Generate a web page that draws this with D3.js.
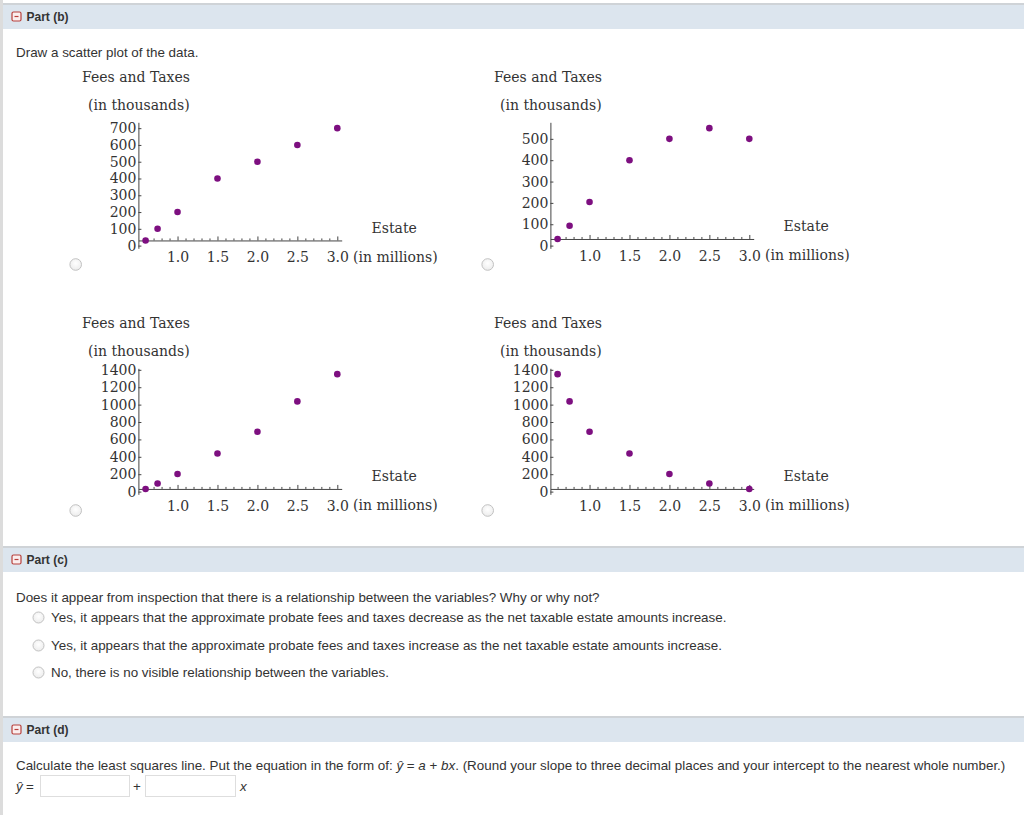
<!DOCTYPE html>
<html>
<head>
<meta charset="utf-8">
<script src="https://cdn.jsdelivr.net/npm/d3@7"></script>
<style>
  html, body { margin: 0; padding: 0; background: #fff; }
  svg { display: block; }
</style>
</head>
<body>
<svg id="page" width="1024" height="815"></svg>
<script>
// ---------------- data ----------------
const estate = [0.6, 0.75, 1.0, 1.5, 2.0, 2.5, 3.0];          // net taxable estate (millions)
const feesA = [30.7, 100, 200, 400, 500, 600, 700];           // option A
const feesB = [31, 93, 204, 400, 500, 550, 500];              // option B
const feesC = [30.7, 92.5, 203, 438, 688, 1037, 1350];        // option C
const feesD = [1350, 1037, 688, 438, 203, 92.5, 30.7];        // option D
const xTickValues = [1.0, 1.5, 2.0, 2.5, 3.0];
const xMinorValues = [0.6, 0.7, 0.8, 0.9, 1.1, 1.2, 1.3, 1.4, 1.6, 1.7, 1.8, 1.9, 2.1, 2.2, 2.3, 2.4, 2.6, 2.7, 2.8, 2.9];
const yTicksA = [0, 100, 200, 300, 400, 500, 600, 700];
const yTicksB = [0, 100, 200, 300, 400, 500];
const yTicksC = [0, 200, 400, 600, 800, 1000, 1200, 1400];
const yTicksD = [0, 200, 400, 600, 800, 1000, 1200, 1400];
const yTitle1 = "Fees and Taxes";
const yTitle2 = "(in thousands)";
const xTitle1 = "Estate";
const xTitle2 = "(in millions)";

const optionsC = [
  "Yes, it appears that the approximate probate fees and taxes decrease as the net taxable estate amounts increase.",
  "Yes, it appears that the approximate probate fees and taxes increase as the net taxable estate amounts increase.",
  "No, there is no visible relationship between the variables."
];

// ---------------- page ----------------
const svg = d3.select("#page");
const SANS = "'Liberation Sans', Arial, Helvetica, sans-serif";
const SERIF = "'DejaVu Serif', serif";
const TXT = "#333";
const FS = 13.4;

const defs = svg.append("defs");
const rg = defs.append("radialGradient").attr("id", "radioGrad").attr("cx", "50%").attr("cy", "40%").attr("r", "60%");
rg.append("stop").attr("offset", "0%").attr("stop-color", "#ffffff");
rg.append("stop").attr("offset", "100%").attr("stop-color", "#ececec");

// left border
svg.append("rect").attr("x", 0).attr("y", 0).attr("width", 3).attr("height", 815).attr("fill", "#dcdcdc");

function header(y, label) {
  svg.append("rect").attr("x", 3).attr("y", y).attr("width", 1021).attr("height", 2).attr("fill", "#cfd3d7");
  svg.append("rect").attr("x", 3).attr("y", y + 2).attr("width", 1021).attr("height", 24).attr("fill", "#dce5ee");
  svg.append("rect").attr("x", 12).attr("y", y + 9).attr("width", 9).attr("height", 9)
    .attr("rx", 1.5).attr("fill", "#fbeeee").attr("stroke", "#b8403c").attr("stroke-width", 1.2);
  svg.append("line").attr("x1", 14.5).attr("x2", 18.5).attr("y1", y + 13.5).attr("y2", y + 13.5)
    .attr("stroke", "#b8403c").attr("stroke-width", 1.2);
  svg.append("text").attr("x", 26.5).attr("y", y + 18).attr("font-family", SANS)
    .attr("font-size", 12).attr("font-weight", "bold").attr("fill", TXT).text(label);
}

function radio(cx, cy, r) {
  svg.append("circle").attr("cx", cx).attr("cy", cy).attr("r", r)
    .attr("fill", "url(#radioGrad)").attr("stroke", "#c2c2c2").attr("stroke-width", 1);
}

function text(x, y, s, opts = {}) {
  return svg.append("text").attr("x", x).attr("y", y)
    .attr("font-family", opts.family || SANS).attr("font-size", opts.size || FS)
    .attr("font-style", opts.italic ? "italic" : null)
    .attr("fill", TXT).text(s);
}

// Part (b)
header(3, "Part (b)");
text(16, 57, "Draw a scatter plot of the data.");

// ---------------- charts ----------------
const charts = [
  { ox: 0,   oy: 0,   ys: feesA, ticks: yTicksA },
  { ox: 412, oy: 0,   ys: feesB, ticks: yTicksB },
  { ox: 0,   oy: 246, ys: feesC, ticks: yTicksC },
  { ox: 412, oy: 246, ys: feesD, ticks: yTicksD }
];

charts.forEach(c => {
  const g = svg.append("g").attr("transform", `translate(${c.ox},${c.oy})`);
  const yHi = d3.max(c.ys) * 1.05;
  const yLo = -0.0219 * yHi;
  const x = d3.scaleLinear().domain([0.51, 3.055]).range([138.4, 341.7]);
  const y = d3.scaleLinear().domain([yLo, yHi]).range([248.3, 122.3]);
  const axisY = y(d3.min(c.ys));

  // titles
  g.append("text").attr("x", 82).attr("y", 82).attr("font-family", SERIF).attr("font-size", 14)
    .attr("fill", TXT).text(yTitle1);
  g.append("text").attr("x", 88).attr("y", 110).attr("font-family", SERIF).attr("font-size", 14)
    .attr("fill", TXT).text(yTitle2);

  // y axis
  const ya = g.append("g").attr("transform", `translate(${x(0.51)},0)`)
    .call(d3.axisLeft(y).tickValues(c.ticks).tickFormat(d3.format("d"))
      .tickSizeInner(-3).tickSizeOuter(0).tickPadding(2));
  ya.select(".domain").attr("stroke", "#444");
  ya.selectAll(".tick line").attr("stroke", "#444");
  ya.selectAll(".tick text").attr("font-family", SERIF).attr("font-size", 14).attr("fill", TXT);

  // x axis (crossing at lowest data value)
  const xa = g.append("g").attr("transform", `translate(0,${axisY})`)
    .call(d3.axisBottom(x).tickValues(xTickValues).tickFormat(d3.format(".1f"))
      .tickSizeInner(-4).tickSizeOuter(0).tickPadding(12));
  xa.select(".domain").attr("stroke", "#444");
  xa.selectAll(".tick line").attr("stroke", "#444");
  xa.selectAll(".tick text").attr("font-family", SERIF).attr("font-size", 14).attr("fill", TXT);
  const xm = g.append("g").attr("transform", `translate(0,${axisY})`)
    .call(d3.axisBottom(x).tickValues(xMinorValues).tickFormat("").tickSizeInner(-2).tickSizeOuter(0));
  xm.select(".domain").remove();
  xm.selectAll(".tick line").attr("stroke", "#444");

  // axis labels
  g.append("text").attr("x", 371.5).attr("y", axisY - 7.5).attr("font-family", SERIF).attr("font-size", 14)
    .attr("fill", TXT).text(xTitle1);
  g.append("text").attr("x", 353).attr("y", axisY + 21.5).attr("font-family", SERIF).attr("font-size", 14)
    .attr("fill", TXT).text(xTitle2);

  // points
  g.selectAll("circle.pt").data(c.ys).join("circle").attr("class", "pt")
    .attr("cx", (d, i) => x(estate[i])).attr("cy", d => y(d)).attr("r", 3.3)
    .attr("fill", "#7d0f80");

  radio(c.ox + 75.7, c.oy + 264.5, 5.8);
});

// Part (c)
header(546, "Part (c)");
text(16, 601.5, "Does it appear from inspection that there is a relationship between the variables? Why or why not?");
optionsC.forEach((s, i) => {
  const cy = [617, 645, 672][i];
  radio(38.5, cy + 0.5, 5.5);
  text(51, cy + 4.5, s);
});

// Part (d)
header(716, "Part (d)");
const line1 = text(16, 769.5, "");
line1.append("tspan").text("Calculate the least squares line. Put the equation in the form of:  ");
line1.append("tspan").attr("font-style", "italic").text("ŷ");
line1.append("tspan").text(" = ");
line1.append("tspan").attr("font-style", "italic").text("a");
line1.append("tspan").text(" + ");
line1.append("tspan").attr("font-style", "italic").text("bx");
line1.append("tspan").text(".  (Round your slope to three decimal places and your intercept to the nearest whole number.)");

text(16, 791, "ŷ", { italic: true });
text(26, 791, "=");
svg.append("rect").attr("x", 40.5).attr("y", 775.5).attr("width", 89).attr("height", 21)
  .attr("fill", "#fff").attr("stroke", "#dedede");
text(133, 791, "+");
svg.append("rect").attr("x", 145.5).attr("y", 775.5).attr("width", 90).attr("height", 21)
  .attr("fill", "#fff").attr("stroke", "#dedede");
text(240, 791, "x", { italic: true });
</script>
</body>
</html>
